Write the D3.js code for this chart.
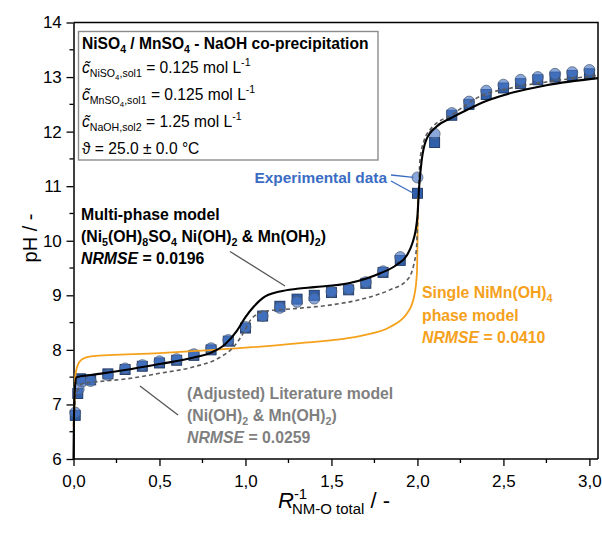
<!DOCTYPE html>
<html>
<head>
<meta charset="utf-8">
<script src="https://cdn.jsdelivr.net/npm/d3@7"></script>
<style>
  body { margin: 0; background: #fff; }
  svg { display: block; }
  text { font-family: "Liberation Sans", Arial, sans-serif; }
</style>
</head>
<body>
<svg id="chart" width="602" height="533"></svg>
<script>
// Axis ticks
const xMajorTicks = [0, 0.5, 1, 1.5, 2, 2.5, 3];
const xMinorTicks = [0.25, 0.75, 1.25, 1.75, 2.25, 2.75];
const yMajorTicks = [6, 7, 8, 9, 10, 11, 12, 13, 14];
const yMinorTicks = [6.5, 7.5, 8.5, 9.5, 10.5, 11.5, 12.5, 13.5];

// Experimental titration data [R^-1, pH]
const expSquares = [
  [0.01, 6.80], [0.025, 7.20], [0.04, 7.47], [0.1, 7.45], [0.2, 7.56], [0.3, 7.64],
  [0.4, 7.70], [0.5, 7.76], [0.6, 7.81], [0.7, 7.90], [0.8, 8.00], [0.9, 8.16],
  [1.0, 8.40], [1.1, 8.62], [1.2, 8.80], [1.3, 8.93], [1.4, 9.00], [1.5, 9.05],
  [1.6, 9.10], [1.7, 9.22], [1.8, 9.42], [1.9, 9.64], [2.0, 10.87], [2.1, 11.80],
  [2.2, 12.30], [2.3, 12.50], [2.4, 12.68], [2.5, 12.80], [2.6, 12.88], [2.7, 12.95],
  [2.8, 13.00], [2.9, 13.03], [3.0, 13.06]
];
const expCircles = [
  [0.01, 6.85], [0.03, 7.28], [0.05, 7.42], [0.1, 7.43], [0.2, 7.54], [0.3, 7.66],
  [0.4, 7.72], [0.5, 7.79], [0.6, 7.83], [0.7, 7.92], [0.8, 8.03], [0.9, 8.18],
  [1.0, 8.42], [1.1, 8.62], [1.2, 8.77], [1.3, 8.88], [1.4, 8.94], [1.5, 9.07],
  [1.6, 9.12], [1.7, 9.24], [1.8, 9.44], [1.9, 9.70], [2.0, 11.16], [2.1, 11.96],
  [2.2, 12.34], [2.3, 12.55], [2.4, 12.75], [2.5, 12.86], [2.6, 12.95], [2.7, 13.00],
  [2.8, 13.06], [2.9, 13.09], [3.0, 13.13]
];

// Model curves [R^-1, pH]
const multiPhase = [
  [0, 6.0], [0.003, 6.8], [0.008, 7.3], [0.017, 7.5], [0.1, 7.54], [0.3, 7.63],
  [0.5, 7.74], [0.7, 7.86], [0.8, 7.95], [0.88, 8.1], [0.95, 8.35], [1.0, 8.6],
  [1.05, 8.8], [1.1, 8.95], [1.2, 9.07], [1.3, 9.12], [1.4, 9.15], [1.6, 9.22],
  [1.78, 9.4], [1.88, 9.56], [1.94, 9.74], [1.97, 9.95], [1.99, 10.2], [2.0, 10.45],
  [2.01, 10.99], [2.025, 11.48], [2.05, 11.84], [2.11, 12.09], [2.19, 12.24],
  [2.29, 12.40], [2.4, 12.56], [2.56, 12.72], [2.75, 12.85], [3.05, 12.98]
];
const literature = [
  [0.002, 6.6], [0.01, 7.1], [0.03, 7.3], [0.05, 7.38], [0.12, 7.41], [0.31, 7.47],
  [0.5, 7.57], [0.7, 7.69], [0.85, 7.86], [0.93, 8.05], [0.99, 8.32], [1.03, 8.55],
  [1.07, 8.66], [1.1, 8.70], [1.3, 8.76], [1.49, 8.82], [1.69, 8.94], [1.84, 9.10],
  [1.94, 9.28], [1.98, 9.58], [1.995, 9.89], [2.006, 10.87], [2.015, 11.48],
  [2.04, 11.85], [2.07, 12.02], [2.21, 12.33], [2.36, 12.64], [2.56, 12.81],
  [2.75, 12.91], [3.05, 13.03]
];
const singlePhase = [
  [0, 6.6], [0.006, 7.0], [0.01, 7.5], [0.02, 7.68], [0.05, 7.83], [0.1, 7.88],
  [0.5, 7.94], [1.0, 8.04], [1.3, 8.12], [1.69, 8.27], [1.84, 8.42], [1.94, 8.67],
  [1.98, 8.97], [1.997, 9.4], [2.0, 9.9], [2.003, 10.8]
];

const svg = d3.select("#chart");
const plotLeft = 73.5, plotRight = 598, plotTop = 22.5, plotBottom = 459;

const x = d3.scaleLinear().domain([0, 3.05]).range([plotLeft, plotRight]);
const y = d3.scaleLinear().domain([6, 14]).range([plotBottom, plotTop]);

const ORANGE = "#f5a11c", BLUE_TXT = "#3b6cc4", GRAY_TXT = "#7f7f7f";
const FS_NOTE = 15.8, FS_BOX = 15.6;

// Rich text: parts = {t, s: 'sub'|'sup'|'subsub', i, b}
function rich(g, px, py, fs, parts, anchor) {
  const t = g.append("text").attr("x", px).attr("y", py)
    .attr("font-size", fs).attr("text-anchor", anchor || "start");
  let cur = 0;
  parts.forEach(p => {
    let off = 0, size = fs;
    if (p.s === "sub") { off = 0.28 * fs; size = 0.68 * fs; }
    if (p.s === "sup") { off = -0.42 * fs; size = 0.68 * fs; }
    if (p.s === "subsub") { off = 0.45 * fs; size = 0.5 * fs; }
    const ts = t.append("tspan").attr("dy", off - cur).attr("font-size", size).text(p.t);
    if (p.i) ts.attr("font-style", "italic");
    if (p.b) ts.attr("font-weight", "bold");
    cur = off;
  });
  return t;
}

// Plot frame: top and right border
svg.append("path")
  .attr("d", `M${plotLeft},${plotTop}H${plotRight}V${plotBottom}`)
  .attr("fill", "none").attr("stroke", "#000").attr("stroke-width", 1.5);

// Bottom axis
const gx = svg.append("g").attr("transform", `translate(0,${plotBottom})`);
gx.call(d3.axisBottom(x).tickValues(xMajorTicks).tickSize(7).tickSizeOuter(0)
  .tickFormat(d => d3.format(".1f")(d).replace(".", ",")));
gx.call(g => g.selectAll(".tick text").attr("font-size", 17).attr("dy", "1.05em")
  .attr("font-family", "Liberation Sans, Arial, sans-serif").attr("fill", "#000"));
gx.selectAll(".minor").data(xMinorTicks).join("line").attr("class", "minor")
  .attr("x1", d => x(d)).attr("x2", d => x(d)).attr("y1", 0).attr("y2", 4)
  .attr("stroke", "#000").attr("stroke-width", 1.3);
gx.select(".domain").attr("d", `M${plotLeft},0H${plotRight}`).attr("stroke-width", 1.5);
gx.selectAll(".tick line").attr("stroke-width", 1.3);

// Left axis
const gy = svg.append("g").attr("transform", `translate(${plotLeft},0)`);
gy.call(d3.axisLeft(y).tickValues(yMajorTicks).tickSize(7).tickSizeOuter(0).tickFormat(d3.format("d")));
gy.call(g => g.selectAll(".tick text").attr("font-size", 17).attr("dx", "-0.1em")
  .attr("font-family", "Liberation Sans, Arial, sans-serif").attr("fill", "#000"));
gy.selectAll(".minor").data(yMinorTicks).join("line").attr("class", "minor")
  .attr("y1", d => y(d)).attr("y2", d => y(d)).attr("x1", 0).attr("x2", -4)
  .attr("stroke", "#000").attr("stroke-width", 1.3);
gy.select(".domain").attr("stroke-width", 1.5);
gy.selectAll(".tick line").attr("stroke-width", 1.3);

// Axis titles
svg.append("text").attr("transform", "translate(37,238) rotate(-90)")
  .attr("text-anchor", "middle").attr("font-size", 20).text("pH / -");
rich(svg, 278, 508, 22, [
  { t: "R", i: true }, { t: "-1", s: "sup" }
]);
rich(svg, 292, 508, 22, [
  { t: "NM-O total", s: "sub" }, { t: " / -" }
]);

// Experimental points
const gPts = svg.append("g");
gPts.selectAll("rect").data(expSquares).join("rect")
  .attr("x", d => x(d[0]) - 5).attr("y", d => y(d[1]) - 5)
  .attr("width", 10).attr("height", 10)
  .attr("fill", "#2f5eab").attr("stroke", "#1c3461").attr("stroke-width", 0.9);
gPts.selectAll("circle").data(expCircles).join("circle")
  .attr("cx", d => x(d[0])).attr("cy", d => y(d[1])).attr("r", 5.5)
  .attr("fill", "#4a78c6").attr("fill-opacity", 0.65)
  .attr("stroke", "#4d5a6e").attr("stroke-opacity", 0.8).attr("stroke-width", 0.9);

// Model curves
const line = d3.line().x(d => x(d[0])).y(d => y(d[1])).curve(d3.curveMonotoneX);
svg.append("path").datum(singlePhase).attr("d", line)
  .attr("fill", "none").attr("stroke", ORANGE).attr("stroke-width", 1.8);
svg.append("path").datum(literature).attr("d", line)
  .attr("fill", "none").attr("stroke", "#5a5a5a").attr("stroke-width", 1.6)
  .attr("stroke-dasharray", "4,3");
svg.append("path").datum(multiPhase).attr("d", line)
  .attr("fill", "none").attr("stroke", "#000").attr("stroke-width", 2.1);

// Condition box
svg.append("rect").attr("x", 78.5).attr("y", 31.5).attr("width", 299.5).attr("height", 128.5)
  .attr("fill", "#fff").attr("stroke", "#8c8c8c").attr("stroke-width", 1.4);
rich(svg, 82, 49, FS_BOX, [
  { t: "NiSO", b: true }, { t: "4", s: "sub", b: true }, { t: " / MnSO", b: true },
  { t: "4", s: "sub", b: true }, { t: " - NaOH co-precipitation", b: true }
]);
const concLines = [
  ["NiSO", "4", ",sol1", " = 0.125 mol L", 73],
  ["MnSO", "4", ",sol1", " = 0.125 mol L", 100],
  ["NaOH,sol2", "", "", " = 1.25 mol L", 127]
];
concLines.forEach(([a, b, c, val, by]) => {
  const parts = [{ t: "c\u0303", i: true }, { t: a, s: "sub" }];
  if (b) parts.push({ t: b, s: "subsub" });
  if (c) parts.push({ t: c, s: "sub" });
  parts.push({ t: val }, { t: "-1", s: "sup" });
  rich(svg, 82, by, FS_BOX, parts);
});
svg.append("text").attr("x", 82).attr("y", 154).attr("font-size", FS_BOX)
  .text("\u03d1 = 25.0 \u00b1 0.0 \u00b0C");

// Annotations
svg.append("text").attr("x", 387).attr("y", 183).attr("text-anchor", "end")
  .attr("font-size", 15.4).attr("font-weight", "bold").attr("fill", BLUE_TXT)
  .text("Experimental data");
const leader = (x1, y1, x2, y2, c) => svg.append("line")
  .attr("x1", x1).attr("y1", y1).attr("x2", x2).attr("y2", y2)
  .attr("stroke", c).attr("stroke-width", 1.3);
leader(391, 175, x(expCircles[22][0]) - 4, y(expCircles[22][1]), BLUE_TXT);
leader(391, 181, x(expSquares[22][0]) - 4, y(expSquares[22][1]), BLUE_TXT);

rich(svg, 81, 220, FS_NOTE, [{ t: "Multi-phase model", b: true }]);
rich(svg, 81, 242, FS_NOTE, [
  { t: "(Ni", b: true }, { t: "5", s: "sub", b: true }, { t: "(OH)", b: true },
  { t: "8", s: "sub", b: true }, { t: "SO", b: true }, { t: "4", s: "sub", b: true },
  { t: " Ni(OH)", b: true }, { t: "2", s: "sub", b: true }, { t: " & Mn(OH)", b: true },
  { t: "2", s: "sub", b: true }, { t: ")", b: true }
]);
rich(svg, 81, 264, FS_NOTE, [{ t: "NRMSE", b: true, i: true }, { t: " = 0.0196", b: true }]);
leader(230, 251.5, 285, 286, "#555");

const gs = svg.append("g").attr("fill", ORANGE);
rich(gs, 422, 298, FS_NOTE, [
  { t: "Single NiMn(OH)", b: true }, { t: "4", s: "sub", b: true }
]);
rich(gs, 422, 321, FS_NOTE, [{ t: "phase model", b: true }]);
rich(gs, 422, 343, FS_NOTE, [{ t: "NRMSE", b: true, i: true }, { t: " = 0.0410", b: true }]);

const gl = svg.append("g").attr("fill", GRAY_TXT);
rich(gl, 187, 399, FS_NOTE, [{ t: "(Adjusted) Literature model", b: true }]);
rich(gl, 187, 421, FS_NOTE, [
  { t: "(Ni(OH)", b: true }, { t: "2", s: "sub", b: true }, { t: " & Mn(OH)", b: true },
  { t: "2", s: "sub", b: true }, { t: ")", b: true }
]);
rich(gl, 187, 443, FS_NOTE, [{ t: "NRMSE", b: true, i: true }, { t: " = 0.0259", b: true }]);
leader(140, 386, 178, 415, "#555");
</script>
</body>
</html>
